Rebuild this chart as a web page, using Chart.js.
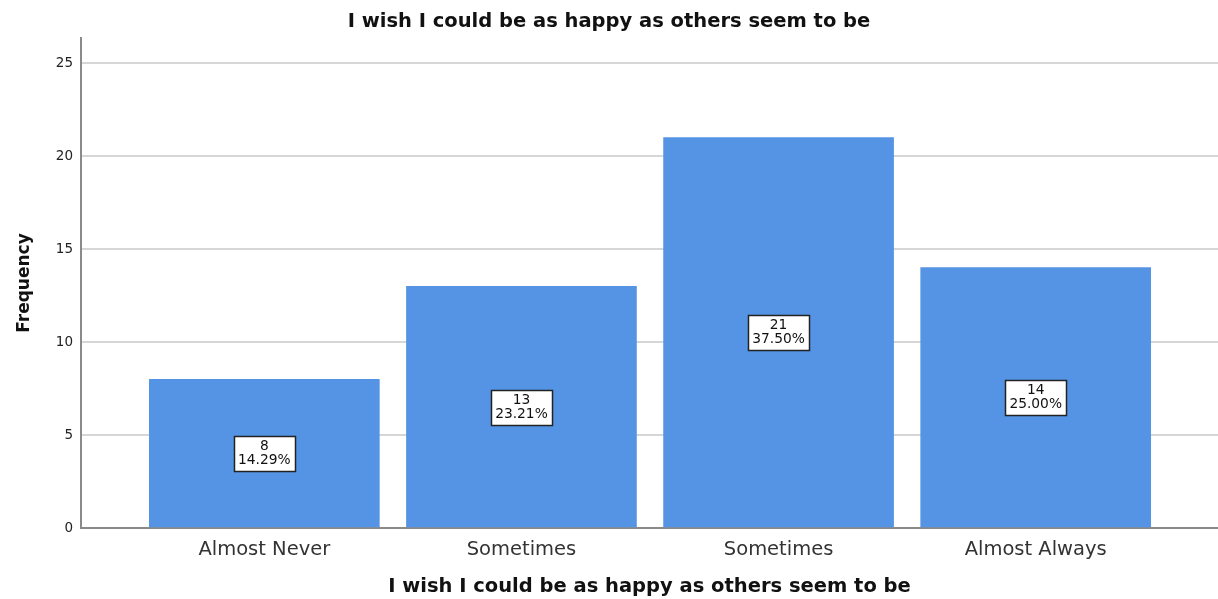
<!DOCTYPE html>
<html>
<head>
<meta charset="utf-8">
<script src="https://cdn.jsdelivr.net/npm/chart.js@4/dist/chart.umd.min.js"></script>
<style>
  html, body { margin: 0; padding: 0; background: #fff; }
  #wrap { width: 1218px; height: 599px; }
</style>
</head>
<body>
<div id="wrap"><canvas id="freqChart" width="1218" height="599"></canvas></div>
<script>
// chart data
const categories = ['Almost Never', 'Sometimes', 'Sometimes', 'Almost Always'];
const frequencies = [8, 13, 21, 14];
const percentLabels = ['14.29%', '23.21%', '37.50%', '25.00%'];
const yTicks = [0, 5, 10, 15, 20, 25];
const titleText = 'I wish I could be as happy as others seem to be';

// boxed count / percent label in the middle of each bar
const boxLabels = {
    id: 'boxLabels',
    afterDatasetsDraw(chart) {
        const ctx = chart.ctx;
        const yScale = chart.scales.y;
        const meta = chart.getDatasetMeta(0);
        ctx.save();
        ctx.font = '13.8px "DejaVu Sans"';
        ctx.textAlign = 'center';
        ctx.textBaseline = 'middle';
        meta.data.forEach((bar, i) => {
            const cx = bar.x;
            const cy = yScale.getPixelForValue(frequencies[i] / 2);
            const line1 = String(frequencies[i]);
            const line2 = percentLabels[i];
            const w = Math.round(Math.max(ctx.measureText(line1).width, ctx.measureText(line2).width) + 8);
            const h = 35;
            const left = Math.round(cx - w / 2) + 0.5;
            const top = Math.round(cy - h / 2) + 0.5;
            ctx.fillStyle = '#ffffff';
            ctx.fillRect(left, top, w, h);
            ctx.strokeStyle = '#222';
            ctx.lineWidth = 1.5;
            ctx.strokeRect(left, top, w, h);
            ctx.fillStyle = '#111';
            ctx.fillText(line1, cx, cy - 7);
            ctx.fillText(line2, cx, cy + 7);
        });
        ctx.restore();
    }
};

const ctx = document.getElementById('freqChart').getContext('2d');
const chart = new Chart(ctx, {
    type: 'bar',
    data: {
        datasets: [{
            label: 'Frequency',
            data: frequencies.map((v, i) => ({ x: i, y: v })),
            backgroundColor: '#5594e4',
            borderWidth: 0,
            barThickness: 230
        }]
    },
    options: {
        responsive: false,
        animation: false,
        layout: { padding: { left: 0, right: 0, top: 0, bottom: 0 } },
        plugins: {
            legend: { display: false },
            tooltip: { enabled: false },
            title: {
                display: true,
                text: titleText,
                color: '#111',
                font: { family: 'DejaVu Sans', size: 19.5, weight: 'bold' },
                padding: { top: 10, bottom: 4.6 }
            }
        },
        scales: {
            x: {
                type: 'linear',
                offset: false,
                bounds: 'data',
                min: -0.713,
                max: 3.709,
                grid: { display: false, drawTicks: false },
                border: { display: true, color: '#8a8a8a', width: 2 },
                afterBuildTicks: scale => { scale.ticks = categories.map((_, i) => ({ value: i })); },
                afterFit: scale => { scale.height = 71; },
                ticks: {
                    padding: 10,
                    color: '#333',
                    autoSkip: false,
                    maxRotation: 0,
                    font: { family: 'DejaVu Sans', size: 19.5 },
                    callback: value => categories[value]
                },
                title: {
                    display: true,
                    text: titleText,
                    color: '#111',
                    font: { family: 'DejaVu Sans', size: 19.5, weight: 'bold' },
                    padding: { top: 0, bottom: 0 }
                }
            },
            y: {
                min: 0,
                max: 26.35,
                grid: { color: '#d6d6d6', lineWidth: 2, drawTicks: false },
                border: { display: true, color: '#8a8a8a', width: 2 },
                afterBuildTicks: scale => { scale.ticks = yTicks.map(v => ({ value: v })); },
                afterFit: scale => { scale.width = 81; },
                ticks: {
                    padding: 8,
                    color: '#222',
                    font: { family: 'DejaVu Sans', size: 13.5 }
                },
                title: {
                    display: true,
                    text: 'Frequency',
                    color: '#111',
                    font: { family: 'DejaVu Sans', size: 17, weight: 'bold' },
                    padding: { top: 14, bottom: 0 }
                }
            }
        }
    },
    plugins: [boxLabels]
});
</script>
</body>
</html>
